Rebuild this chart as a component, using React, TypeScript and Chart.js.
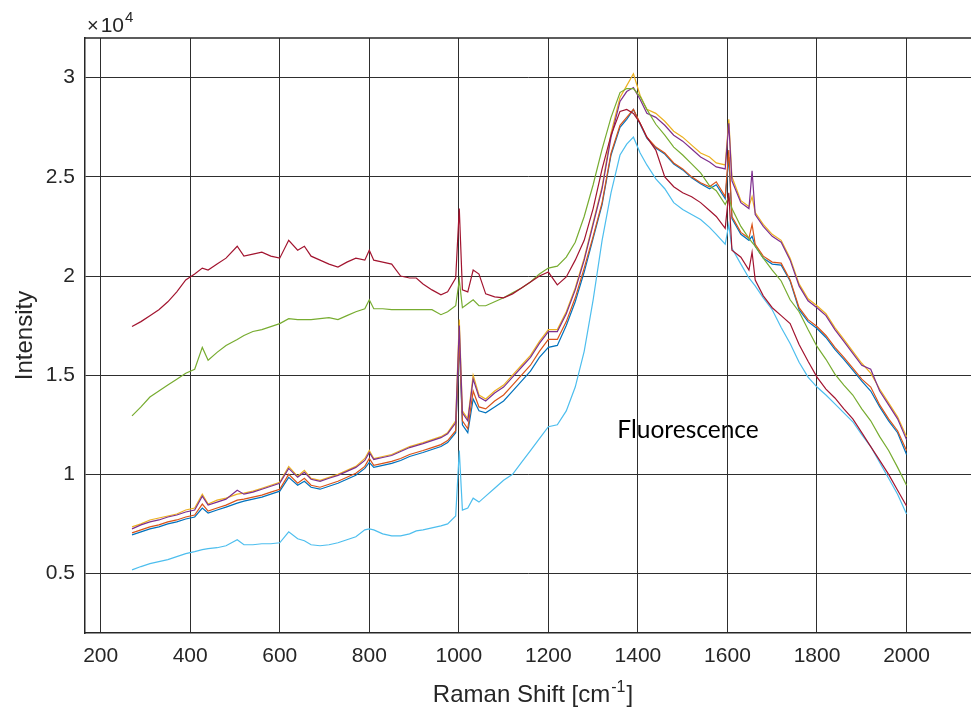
import React, { useEffect, useRef } from "react";
import { Chart, registerables } from "chart.js";

Chart.register(...registerables);

// Raman shift axis (cm^-1), shared by all spectra
const ramanShift = [
  270, 290, 310, 330, 350, 370, 390, 410, 427, 440,
  460, 480, 505, 520, 540, 560, 580, 600, 620, 640,
  655, 670, 690, 710, 730, 750, 770, 790, 800, 810,
  830, 850, 870, 890, 905, 920, 940, 960, 975, 993,
  1001, 1008, 1020, 1032, 1045, 1060, 1080, 1100, 1120, 1140,
  1160, 1180, 1200, 1220, 1240, 1260, 1280, 1300, 1320, 1340,
  1360, 1375, 1390, 1405, 1420, 1440, 1460, 1480, 1500, 1520,
  1540, 1560, 1575, 1595, 1603, 1610, 1630, 1648, 1655, 1662,
  1680, 1700, 1720, 1740, 1760, 1780, 1800, 1820, 1840, 1860,
  1880, 1900, 1920, 1940, 1960, 1980, 2000,
];

const spectrum1 = [
  6950, 7100, 7250, 7350, 7500, 7600, 7750, 7850, 8300, 8050,
  8200, 8350, 8550, 8650, 8750, 8850, 9000, 9150, 9850, 9450,
  9650, 9350, 9250, 9400, 9550, 9750, 9950, 10300, 10600, 10350,
  10450, 10550, 10700, 10900, 11000, 11100, 11250, 11400, 11600, 12100,
  16600, 12500, 12100, 13800, 13200, 13100, 13400, 13700, 14200, 14700,
  15200, 15900, 16400, 16500, 17500, 18700, 20200, 21900, 23600, 26100,
  27500, 27900, 28400, 27650, 26950, 26450, 26150, 25650, 25350, 24950,
  24650, 24400, 24600, 23900, 26000, 22900, 22100, 21800, 22000, 21500,
  20900, 20600, 20550, 19750, 18300, 17700, 17350, 16900, 16300, 15800,
  15250, 14700, 14200, 13400, 12700, 12100, 11000,
];

const spectrum2 = [
  7050, 7200, 7350, 7450, 7600, 7700, 7850, 7950, 8500, 8150,
  8300, 8450, 8700, 8750, 8850, 8950, 9100, 9250, 10000, 9550,
  9800, 9450, 9350, 9500, 9650, 9850, 10050, 10400, 10800, 10450,
  10550, 10650, 10800, 11000, 11100, 11200, 11350, 11500, 11700, 12200,
  16800, 12700, 12300, 14200, 13400, 13300, 13700, 14000, 14500, 15000,
  15500, 16200, 16800, 16800, 17700, 18900, 20400, 22000, 23700, 26200,
  27600, 28000, 28400, 27700, 27000, 26500, 26200, 25700, 25400, 25000,
  24700, 24500, 24750, 24000, 26350, 23000, 22200, 21900, 22600, 21600,
  21000, 20700, 20650, 19800, 18400, 17800, 17450, 17000, 16400, 15900,
  15350, 14800, 14400, 13500, 12800, 12200, 11200,
];

const spectrum3 = [
  7350, 7500, 7700, 7800, 7900, 8000, 8200, 8300, 9000, 8500,
  8700, 8800, 9000, 9050, 9150, 9300, 9450, 9600, 10400, 9900,
  10200, 9800, 9700, 9850, 10000, 10200, 10400, 10800, 11200, 10800,
  10900, 11000, 11200, 11400, 11500, 11600, 11750, 11900, 12100, 12700,
  17800, 13200, 12800, 15000, 14000, 13800, 14200, 14500, 15000, 15500,
  16000, 16700, 17300, 17300, 18200, 19400, 20900, 22700, 24500, 27200,
  29000, 29600, 30200, 29100, 28400, 28200, 27800, 27300, 27000, 26600,
  26200, 26000, 25700, 25600, 27900, 25000, 23800, 23500, 24000, 23200,
  22600, 22100, 21800, 20900, 19600, 18850, 18500, 18100, 17400, 16800,
  16200, 15600, 15100, 14300, 13600, 12900, 11900,
];

const spectrum4 = [
  7250, 7450, 7600, 7700, 7850, 7950, 8100, 8200, 8900, 8450,
  8600, 8750, 9200, 9000, 9100, 9250, 9400, 9550, 10300, 9850,
  10100, 9750, 9650, 9800, 9950, 10150, 10350, 10700, 11100, 10750,
  10850, 10950, 11150, 11350, 11450, 11550, 11700, 11850, 12050, 12600,
  17500, 13100, 12700, 14800, 13900, 13700, 14100, 14400, 14900, 15400,
  15900, 16600, 17200, 17200, 18100, 19300, 20800, 22600, 24400, 27000,
  28800, 29300, 29500, 28900, 28200, 28000, 27600, 27100, 26800, 26400,
  26000, 25750, 25500, 25400, 27700, 24800, 23700, 23400, 25300, 23100,
  22500, 22000, 21700, 20800, 19500, 18750, 18400, 18000, 17300, 16700,
  16100, 15500, 15300, 14200, 13500, 12800, 11750,
];

const spectrum5 = [
  12950, 13400, 13900, 14200, 14500, 14800, 15100, 15300, 16400, 15750,
  16150, 16500, 16800, 17000, 17200, 17300, 17450, 17600, 17850, 17800,
  17800, 17800, 17850, 17900, 17800, 18000, 18200, 18350, 18800, 18350,
  18350, 18300, 18300, 18300, 18300, 18300, 18300, 18050, 18200, 18500,
  19800, 18400, 18600, 18800, 18500, 18500, 18700, 18900, 19150, 19400,
  19700, 20100, 20400, 20500, 20950, 21700, 23000, 24600, 26400, 28000,
  29250, 29450, 29450, 29050, 28400, 27650, 27100, 26500, 26100, 25650,
  25200, 24550, 24300, 23600, 24000, 23400, 22500, 21900, 21700, 21500,
  20900, 20300, 19750, 18800, 18200, 17300, 16450, 15800, 15050, 14500,
  14000, 13300, 12700, 11900, 11200, 10350, 9450,
];

const spectrum6 = [
  5180, 5350, 5500, 5600, 5700, 5850, 6000, 6100, 6200, 6250,
  6300, 6400, 6700, 6450, 6450, 6500, 6500, 6550, 7100, 6750,
  6650, 6450, 6400, 6450, 6550, 6700, 6850, 7200, 7250, 7200,
  7000, 6900, 6900, 7000, 7150, 7200, 7300, 7400, 7500, 7900,
  11200, 8200, 8300, 8800, 8600, 8900, 9300, 9700, 10000, 10600,
  11200, 11800, 12400, 12500, 13200, 14400, 16200, 18800, 21800, 24200,
  26100, 26650, 27000, 26200, 25600, 24900, 24400, 23700, 23350, 23100,
  22850, 22450, 22100, 21600, 22600, 21400, 20600, 19900, 19700, 19500,
  18900, 18300, 17400, 16600, 15650, 14900, 14400, 14000, 13550, 13100,
  12650, 12000, 11400, 10600, 9800, 9000, 8000,
];

const spectrum7 = [
  17450, 17700, 18000, 18300, 18700, 19200, 19800, 20100, 20400, 20300,
  20600, 20900, 21500, 21000, 21100, 21200, 21000, 20900, 21800, 21300,
  21500, 21000, 20800, 20600, 20450, 20700, 20900, 20800, 21300, 20800,
  20700, 20600, 20000, 19900, 19900, 19600, 19300, 19050, 19200, 19900,
  23400, 19300, 19200, 20300, 20100, 19100, 18950, 18900, 19100, 19400,
  19700, 20000, 20200, 19550, 19950, 20800, 21800, 23400, 25400, 27100,
  28300, 28400, 28200, 27700, 27000, 26350, 25000, 24500, 24200, 24000,
  23700, 23300, 23000, 22400, 24200, 21300, 20950, 20300, 21200, 19800,
  19000, 18400, 18000, 17600, 16550, 15700, 14900, 14300, 13850, 13300,
  12800, 12100, 11400, 10700, 10000, 9200, 8400,
];

const seriesList = [spectrum1, spectrum2, spectrum3, spectrum4, spectrum5, spectrum6, spectrum7];
const seriesColors = ["#0072BD", "#D95319", "#EDB120", "#7E2F8E", "#77AC30", "#4DBEEE", "#A2142F"];

const xTickValues = [200, 400, 600, 800, 1000, 1200, 1400, 1600, 1800, 2000];
const yTickValues = [5000, 10000, 15000, 20000, 25000, 30000];
const xRange = [165, 2144];
const yRange = [2000, 32000];

const annotationText = "Fluorescence";
const annotationAt = { x: 1354, y: 11830 };

const FAM = '"Liberation Sans", Arial, Helvetica, sans-serif';
const TXT = "#262626";

const decorPlugin = {
  id: "decor",
  beforeDraw(chart: any) {
    const { ctx, scales } = chart;
    ctx.save();
    ctx.fillStyle = "#000";
    ctx.font = '24.5px Lato, "Open Sans", sans-serif';
    ctx.textAlign = "left";
    ctx.textBaseline = "alphabetic";
    ctx.fillText(
      annotationText,
      scales.x.getPixelForValue(annotationAt.x),
      scales.y.getPixelForValue(annotationAt.y)
    );
    ctx.restore();
  },
  afterDraw(chart: any) {
    const { ctx, chartArea: ca } = chart;
    ctx.save();
    // box top
    ctx.strokeStyle = TXT;
    ctx.lineWidth = 1.5;
    ctx.beginPath();
    ctx.moveTo(ca.left, ca.top);
    ctx.lineTo(ca.right, ca.top);
    ctx.stroke();

    ctx.fillStyle = TXT;
    ctx.textBaseline = "alphabetic";
    ctx.textAlign = "left";
    // exponent label
    ctx.font = `20px ${FAM}`;
    ctx.fillText("×", 87, 32);
    const wx = ctx.measureText("×").width;
    ctx.font = `21px ${FAM}`;
    ctx.fillText("10", 87 + wx + 2, 32);
    const w10 = ctx.measureText("10").width;
    ctx.font = `15px ${FAM}`;
    ctx.fillText("4", 87 + wx + 2 + w10 + 1, 22);

    // x title
    const p1 = "Raman Shift [cm";
    const p2 = "-1";
    const p3 = "]";
    ctx.font = `24px ${FAM}`;
    const w1 = ctx.measureText(p1).width;
    const w3 = ctx.measureText(p3).width;
    ctx.font = `16px ${FAM}`;
    const w2 = ctx.measureText(p2).width;
    const total = w1 + w2 + w3 + 2;
    const x0 = 533 - total / 2;
    ctx.font = `24px ${FAM}`;
    ctx.fillText(p1, x0, 702);
    ctx.font = `16px ${FAM}`;
    ctx.fillText(p2, x0 + w1 + 1, 692);
    ctx.font = `24px ${FAM}`;
    ctx.fillText(p3, x0 + w1 + w2 + 2, 702);

    // y title
    ctx.translate(32, (ca.top + ca.bottom) / 2);
    ctx.rotate(-Math.PI / 2);
    ctx.textAlign = "center";
    ctx.font = `24px ${FAM}`;
    ctx.fillText("Intensity", 0, 0);
    ctx.restore();
  },
};

export default function App() {
  const ref = useRef<HTMLCanvasElement | null>(null);

  useEffect(() => {
    if (!ref.current) return;
    const datasets = seriesList.map((vals, i) => ({
      label: `Spectrum ${i + 1}`,
      data: ramanShift.map((x, j) => ({ x, y: vals[j] })),
      borderColor: seriesColors[i],
      backgroundColor: seriesColors[i],
      borderWidth: 1.2,
      pointRadius: 0,
      tension: 0,
      fill: false,
      order: seriesList.length - i,
    }));

    const chart = new Chart(ref.current, {
      type: "line",
      data: { datasets },
      options: {
        responsive: false,
        animation: false,
        devicePixelRatio: 1,
        layout: { padding: { top: 38, right: 0, left: 0, bottom: 0 } },
        plugins: {
          legend: { display: false },
          tooltip: { enabled: false },
        },
        scales: {
          x: {
            type: "linear",
            min: xRange[0],
            max: xRange[1],
            afterFit: (s: any) => {
              s.height = 78;
            },
            afterBuildTicks: (s: any) => {
              s.ticks = xTickValues.map((v) => ({ value: v }));
            },
            ticks: {
              color: TXT,
              font: { family: FAM, size: 21 },
              padding: 11,
              maxRotation: 0,
              autoSkip: false,
              callback: (v: any) => String(v),
            },
            grid: { color: "#2e2e2e", lineWidth: 1, drawTicks: false },
            border: { display: true, color: TXT, width: 1.5 },
          },
          y: {
            type: "linear",
            min: yRange[0],
            max: yRange[1],
            afterFit: (s: any) => {
              s.width = 85;
            },
            afterBuildTicks: (s: any) => {
              s.ticks = yTickValues.map((v) => ({ value: v }));
            },
            ticks: {
              color: TXT,
              font: { family: FAM, size: 21 },
              padding: 10,
              autoSkip: false,
              callback: (v: any) => String(Number(v) / 10000),
            },
            grid: { color: "#2e2e2e", lineWidth: 1, drawTicks: false },
            border: { display: true, color: TXT, width: 1.5 },
          },
        },
      },
      plugins: [decorPlugin],
    });
    return () => chart.destroy();
  }, []);

  return (
    <div style={{ position: "absolute", left: 0, top: 0, width: 971, height: 711, background: "#fff" }}>
      <canvas ref={ref} width={971} height={711} style={{ display: "block" }} />
    </div>
  );
}
